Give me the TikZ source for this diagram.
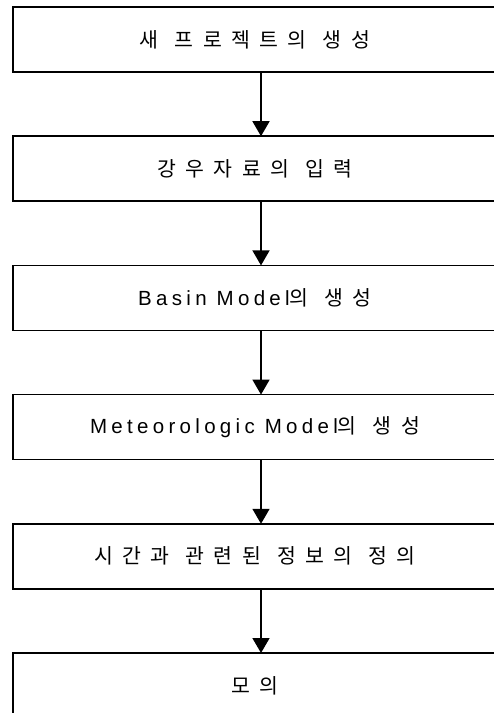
\documentclass[tikz,border=0pt]{standalone}
\usepackage{fontspec}
\setmainfont{Liberation Sans}[LetterSpace=21]
\newfontfamily\krfont{Noto Sans CJK KR}[Scale=1.0,LetterSpace=46]
\newcommand\kr{\krfont\spaceskip=16pt\relax}
\usepackage{tikz}
\usetikzlibrary{arrows.meta}
\tikzstyle{etape}=[minimum width=496pt,minimum height=65pt,
rectangle,draw,line width=1.5pt,outer sep=0pt,
fill=white,text=black,font=\fontsize{20.5pt}{24pt}\selectfont,
execute at end node={\hspace{12pt}}]
\tikzstyle{fleche}=[-{Triangle[length=15pt,width=17pt]},line width=1.6pt]
\begin{document}
\begin{tikzpicture}
\useasboundingbox (0,0) rectangle (494pt,-713pt);
\node[etape] (NP) at (261pt,-39.5pt) {\kr 새 프로젝트의 생성};
\node[etape] (RD) at (261pt,-168.7pt) {\kr 강우자료의 입력};
\node[etape] (BM) at (261pt,-297.9pt) {Basin Model{\kr 의 생성}};
\node[etape] (MM) at (261pt,-427.1pt) {Meteorologic Model{\kr 의 생성}};
\node[etape] (TI) at (261pt,-556.3pt) {\kr 시간과 관련된 정보의 정의};
\node[etape] (SIM) at (261pt,-685.5pt) {\kr 모의};
\draw[fleche] (NP)--(RD);
\draw[fleche] (RD)--(BM);
\draw[fleche] (BM)--(MM);
\draw[fleche] (MM)--(TI);
\draw[fleche] (TI)--(SIM);
\end{tikzpicture}
\end{document}
